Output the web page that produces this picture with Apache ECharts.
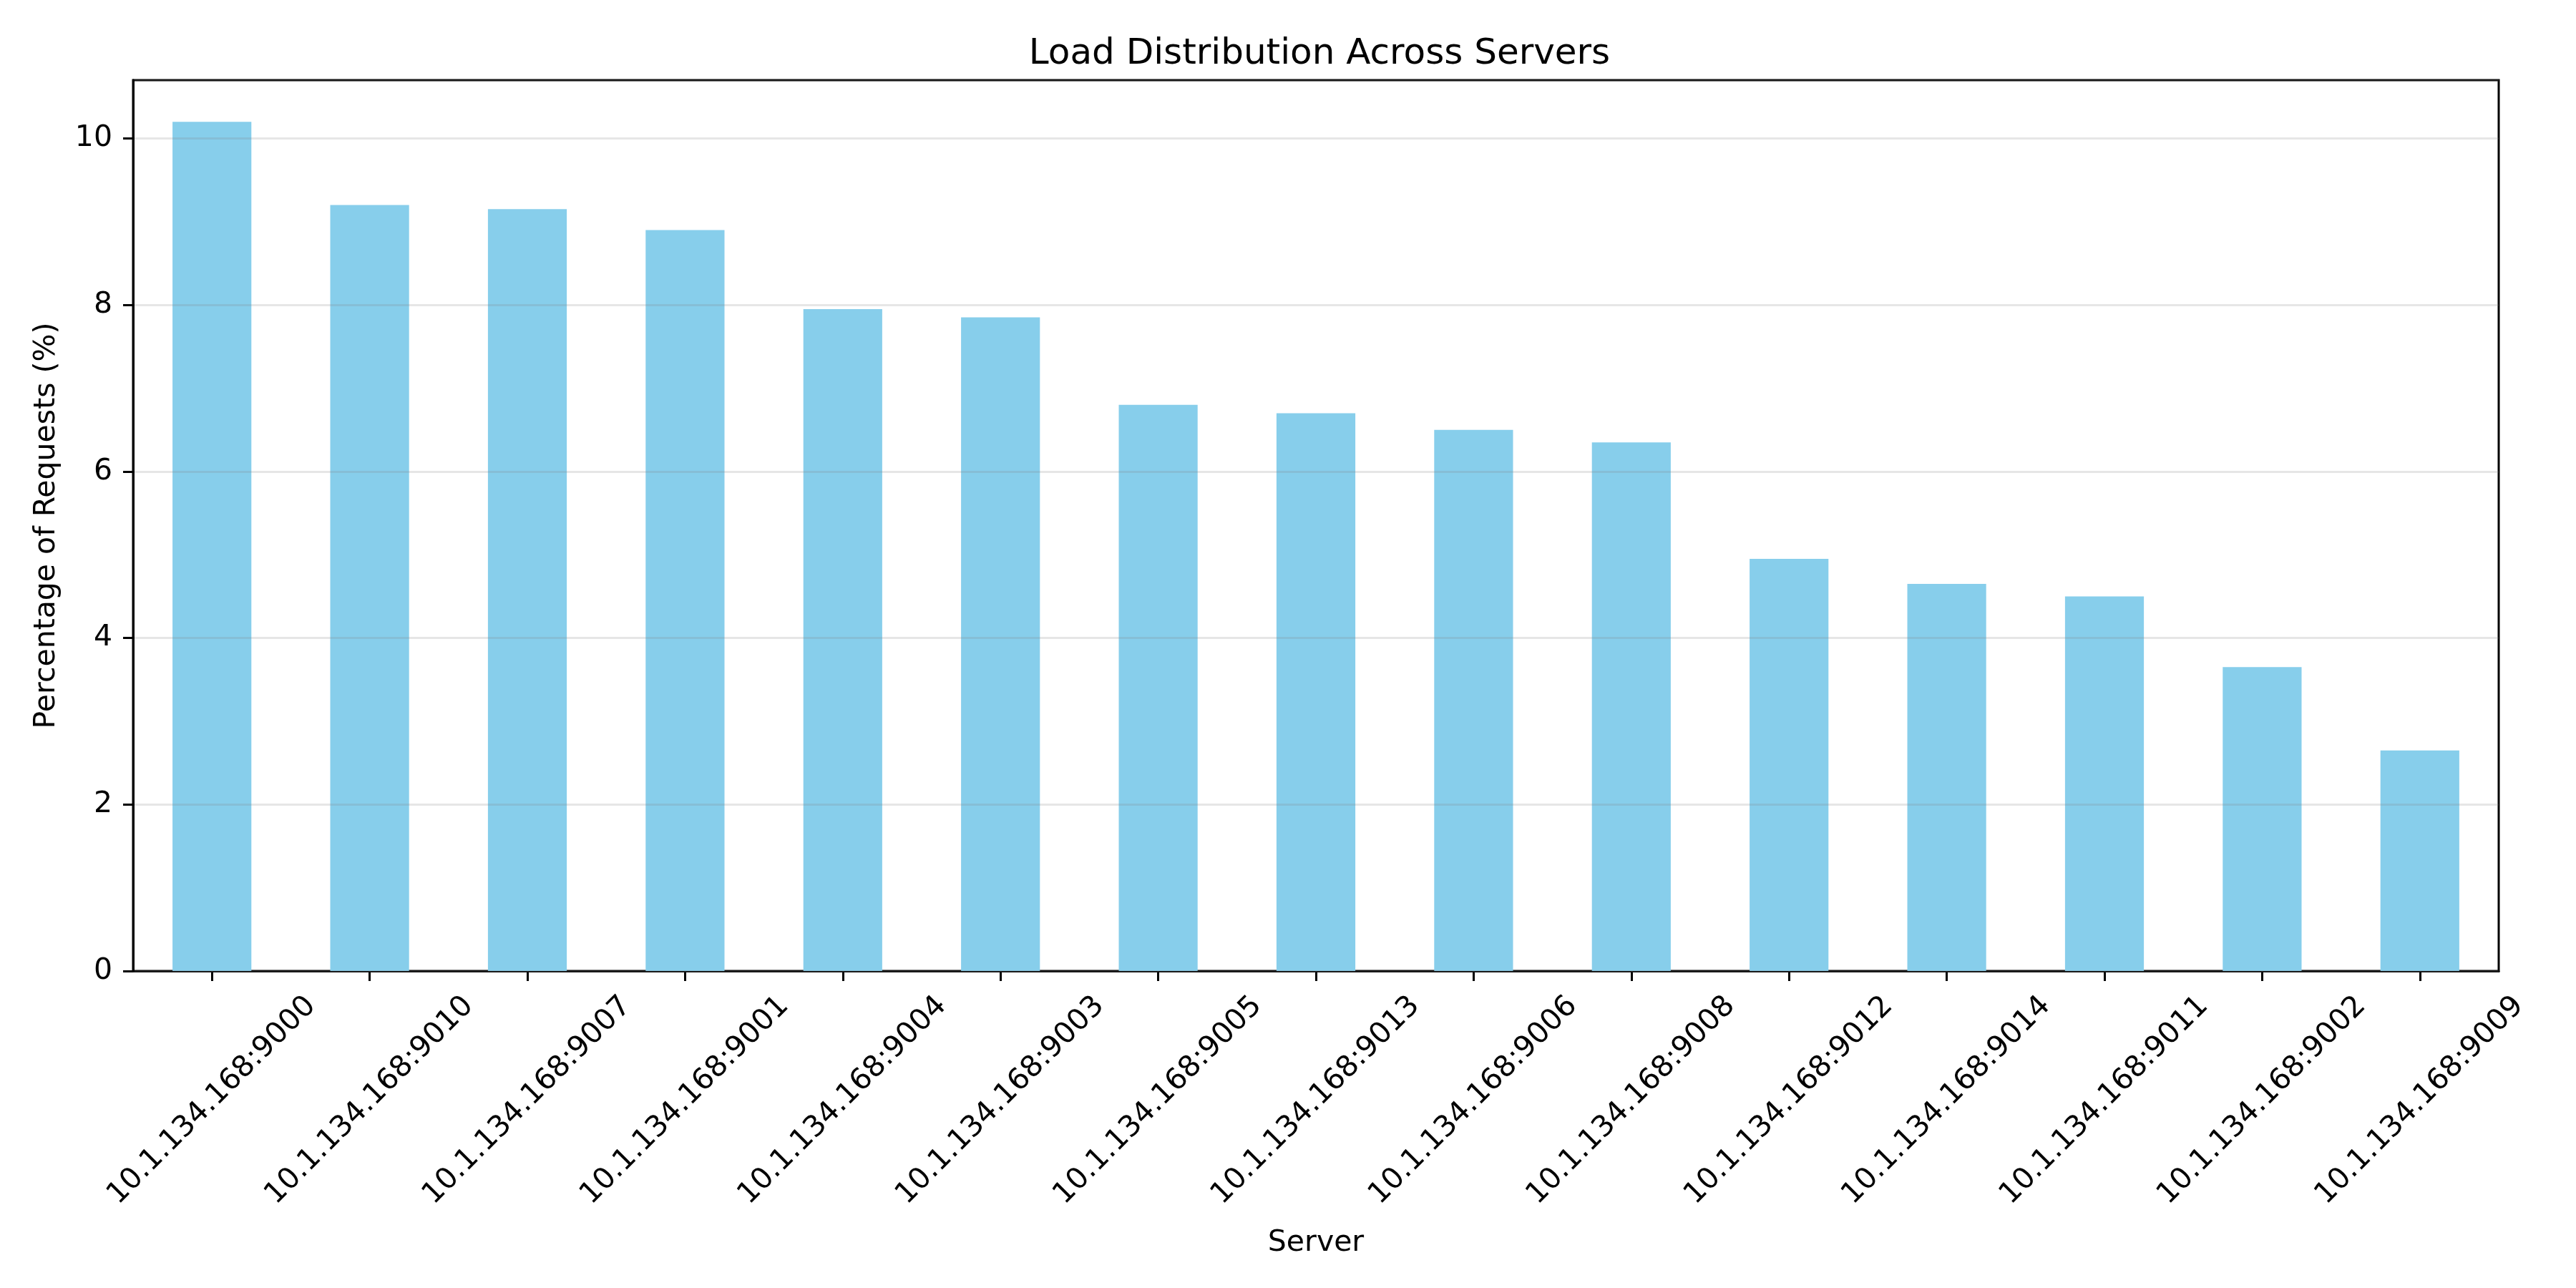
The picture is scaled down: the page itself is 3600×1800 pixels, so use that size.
<!DOCTYPE html>
<html>
<head>
<meta charset="utf-8">
<script src="https://cdn.jsdelivr.net/npm/echarts@6.0.0/dist/echarts.min.js"></script>
<style>
  html, body { margin: 0; padding: 0; background: #fff; }
  #chart { width: 3600px; height: 1800px; }
</style>
</head>
<body>
<div id="chart"></div>
<script>
// servers sorted by share of requests
const servers = [
    "10.1.134.168:9000", "10.1.134.168:9010", "10.1.134.168:9007", "10.1.134.168:9001",
    "10.1.134.168:9004", "10.1.134.168:9003", "10.1.134.168:9005", "10.1.134.168:9013",
    "10.1.134.168:9006", "10.1.134.168:9008", "10.1.134.168:9012", "10.1.134.168:9014",
    "10.1.134.168:9011", "10.1.134.168:9002", "10.1.134.168:9009"
];
const percentages = [10.2, 9.2, 9.15, 8.9, 7.95, 7.85, 6.8, 6.7, 6.5, 6.35, 4.95, 4.65, 4.5, 3.65, 2.65];
const yTicks = [0, 2, 4, 6, 8, 10];

const font = "DejaVu Sans";
const chart = echarts.init(document.getElementById("chart"), null, { renderer: "canvas" });

chart.setOption({
    backgroundColor: "#ffffff",
    animation: false,
    textStyle: { fontFamily: font, color: "#000" },
    title: {
        text: "Load Distribution Across Servers",
        left: 1839, top: 46, textAlign: "center",
        textStyle: { fontFamily: font, fontSize: 50, fontWeight: "normal", color: "#000" }
    },
    grid: {
        left: 186, right: 108, top: 112, bottom: 443, containLabel: false,
        show: true, borderColor: "#000", borderWidth: 3, backgroundColor: "transparent"
    },
    xAxis: {
        type: "category",
        data: servers,
        name: "Server",
        nameLocation: "middle",
        nameGap: 360,
        nameTextStyle: { fontFamily: font, fontSize: 41, color: "#000" },
        axisLine: { show: true, lineStyle: { color: "#000", width: 3 } },
        axisTick: { show: true, alignWithLabel: true, length: 14, lineStyle: { color: "#000", width: 3 } },
        axisLabel: {
            rotate: 45, align: "center", verticalAlign: "middle", margin: 181,
            fontFamily: font, fontSize: 41, color: "#000", interval: 0
        },
        splitLine: { show: false }
    },
    yAxis: {
        type: "value",
        min: yTicks[0], max: 10.7, interval: 2,
        z: 5,
        name: "Percentage of Requests (%)",
        nameLocation: "middle",
        nameGap: 100,
        nameTextStyle: { fontFamily: font, fontSize: 41, color: "#000" },
        axisLine: { show: true, lineStyle: { color: "#000", width: 3 } },
        axisTick: { show: true, length: 14, lineStyle: { color: "#000", width: 3 } },
        axisLabel: {
            fontFamily: font, fontSize: 41, color: "#000", margin: 29,
            showMaxLabel: false,
            formatter: v => (yTicks.indexOf(v) >= 0 ? String(v) : "")
        },
        splitLine: { show: true, lineStyle: { color: "rgba(128,128,128,0.2)", width: 3 } }
    },
    series: [{
        type: "bar",
        data: percentages,
        barWidth: "50%",
        itemStyle: { color: "#87CEEB" }
    }]
});
</script>
</body>
</html>
